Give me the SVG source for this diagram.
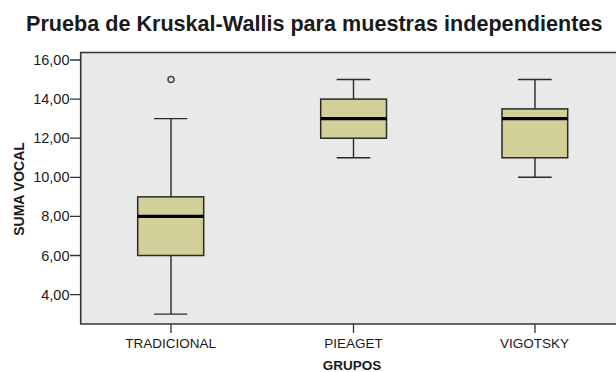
<svg xmlns="http://www.w3.org/2000/svg" width="616" height="372" viewBox="0 0 616 372">
<style>
.t{font-family:"Liberation Sans",Arial,sans-serif;fill:#1a1a1a}
.ty{font-size:14.5px;text-anchor:end}
.tx{font-size:13.5px;text-anchor:middle}
.b{font-weight:bold}
.ax{stroke:#333;stroke-width:1.6;fill:none}
.tk{stroke:#333;stroke-width:1.3}
.box{fill:#d3cf98;stroke:#2a2a2a;stroke-width:1.5}
.wh{stroke:#2a2a2a;stroke-width:1.4;fill:none}
.med{stroke:#000;stroke-width:3.2}
</style>
<rect width="616" height="372" fill="#fff"/>
<text class="t b" x="26" y="30.5" font-size="21.6">Prueba de Kruskal-Wallis para muestras independientes</text>
<g id="plot-area">
<rect x="80.7" y="52.5" width="540" height="271.5" fill="#e9e9e9"/>
<path class="ax" d="M616,52.5 H80.7 V324 H616"/>
</g>
<g id="y-axis">
<path class="tk" d="M70,60H80.7M70,99.1H80.7M70,138.2H80.7M70,177.3H80.7M70,216.4H80.7M70,255.5H80.7M70,294.6H80.7"/>
<text class="t ty" x="69.5" y="65">16,00</text>
<text class="t ty" x="69.5" y="104.1">14,00</text>
<text class="t ty" x="69.5" y="143.2">12,00</text>
<text class="t ty" x="69.5" y="182.3">10,00</text>
<text class="t ty" x="69.5" y="221.4">8,00</text>
<text class="t ty" x="69.5" y="260.5">6,00</text>
<text class="t ty" x="69.5" y="299.6">4,00</text>
<text class="t b" font-size="14" text-anchor="middle" transform="translate(24,189) rotate(-90)">SUMA VOCAL</text>
</g>
<g id="x-axis">
<path class="tk" d="M171,324V333M353.5,324V333M535,324V333"/>
<text class="t tx" x="170.7" y="347.5">TRADICIONAL</text>
<text class="t tx" x="353.5" y="347.5">PIEAGET</text>
<text class="t tx" x="534.5" y="347.5">VIGOTSKY</text>
<text class="t b" font-size="13.5" text-anchor="middle" x="352" y="369.5">GRUPOS</text>
</g>
<g id="connectors">
<path class="wh" d="M171,118.65V196.85M171,255.5V314.15M154,118.65H187.3M154,314.15H187.3"/>
<path class="wh" d="M353.5,79.55V99.1M353.5,138.2V157.75M336.7,79.55H370.3M336.7,157.75H370.3"/>
<path class="wh" d="M535,79.55V108.9M535,157.75V177.3M518,79.55H551.7M518,177.3H551.7"/>
</g>
<g id="box-tradicional">
<rect class="box" x="137.7" y="196.85" width="66" height="58.65"/>
<line class="med" x1="137.7" y1="216.4" x2="203.7" y2="216.4"/>
<circle cx="171" cy="79.6" r="3" fill="none" stroke="#444" stroke-width="1.5"/>
</g>
<g id="box-pieaget">
<rect class="box" x="320.7" y="99.1" width="65.8" height="39.1"/>
<line class="med" x1="320.7" y1="118.65" x2="386.5" y2="118.65"/>
</g>
<g id="box-vigotsky">
<rect class="box" x="502" y="108.9" width="65.7" height="48.85"/>
<line class="med" x1="502" y1="118.65" x2="567.7" y2="118.65"/>
</g>
</svg>
